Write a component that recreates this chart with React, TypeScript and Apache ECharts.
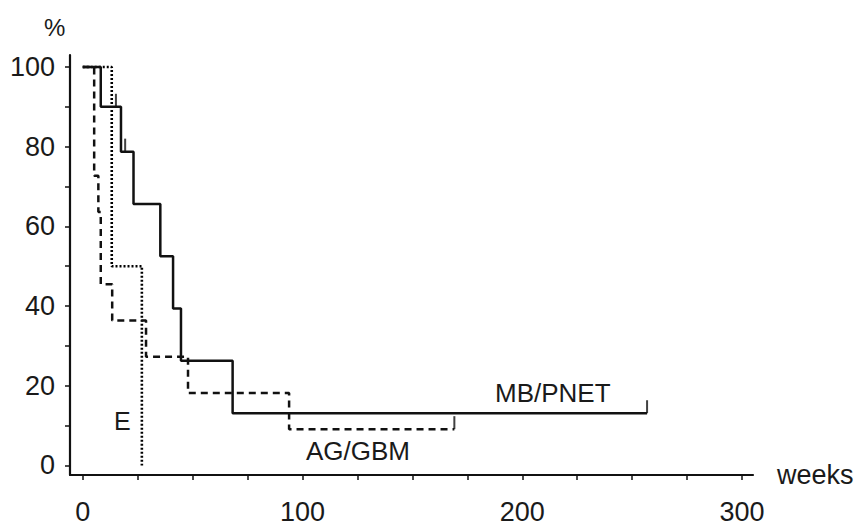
import React, { useEffect, useRef } from "react";
import * as echarts from "echarts";

// MB/PNET (solid)
const mbTimes = [0, 8.2, 17.4, 23.1, 35.3, 41.1, 44.7, 68.2, 256.8];
const mbSurv = [100, 90, 78.75, 65.6, 52.5, 39.4, 26.25, 13.1, 13.1];
const mbCensorTimes = [15.1, 19.3, 256.8];
const mbCensorSurv = [90, 78.75, 13.1];

// AG/GBM (dashed)
const agTimes = [0, 5.2, 7.1, 8.2, 13.4, 28.8, 47.9, 93.9, 169.1];
const agSurv = [100, 72.7, 63.6, 45.5, 36.4, 27.3, 18.2, 9.1, 9.1];
const agCensorTimes = [169.1];
const agCensorSurv = [9.1];

// E (dotted)
const eTimes = [0, 13.2, 26.9];
const eSurv = [100, 50, 0];

const xTickValues = [0, 25, 50, 75, 100, 125, 150, 175, 200, 225, 250, 275, 300];
const xLabelValues = [0, 100, 200, 300];
const yTickValues = [0, 10, 20, 30, 40, 50, 60, 70, 80, 90, 100];
const yLabelValues = [0, 20, 40, 60, 80, 100];

const FONT = "Liberation Sans, Arial, sans-serif";
const TXT = "#1a1a1a";
const INK = "#111";

const zip = (a: number[], b: number[]) => a.map((v, i) => [v, b[i]]);

export default function App() {
  const ref = useRef<HTMLDivElement>(null);
  useEffect(() => {
    if (!ref.current) return;
    const chart = echarts.init(ref.current, undefined, { renderer: "svg" });
    const censorSeries = (data: number[][]) => ({
      type: "scatter",
      data,
      symbol: "rect",
      symbolSize: [2, 13],
      symbolOffset: [0, -6.5],
      itemStyle: { color: INK },
      silent: true,
      z: 5,
    });
    chart.setOption({
      animation: false,
      backgroundColor: "#fff",
      grid: { left: 70, right: 106, top: 55, bottom: 53, outerBoundsMode: "none", containLabel: false },
      xAxis: {
        type: "value",
        min: -5.8,
        max: 305,
        name: "weeks",
        nameLocation: "end",
        nameGap: 24,
        nameTextStyle: { fontFamily: FONT, fontSize: 27, color: TXT },
        axisLine: { show: true, onZero: false, lineStyle: { color: INK, width: 2.2 } },
        axisTick: { show: true, length: 5, customValues: xTickValues, lineStyle: { color: INK, width: 1.5 } },
        axisLabel: { customValues: xLabelValues, margin: 23, fontFamily: FONT, fontSize: 27, color: TXT },
        splitLine: { show: false },
      },
      yAxis: {
        type: "value",
        min: -2.4,
        max: 103,
        axisLine: { show: true, onZero: false, lineStyle: { color: INK, width: 2.2 } },
        axisTick: { show: true, length: 5, customValues: yTickValues, lineStyle: { color: INK, width: 1.5 } },
        axisLabel: { customValues: yLabelValues, margin: 15, fontFamily: FONT, fontSize: 27, color: TXT },
        splitLine: { show: false },
      },
      series: [
        {
          type: "line",
          step: "end",
          data: zip(eTimes, eSurv),
          showSymbol: false,
          lineStyle: { color: "#000", width: 2.6, type: [2, 2] },
          silent: true,
        },
        {
          type: "line",
          step: "end",
          data: zip(agTimes, agSurv),
          showSymbol: false,
          lineStyle: { color: INK, width: 2.5, type: [7, 5] },
          silent: true,
        },
        {
          type: "line",
          step: "end",
          data: zip(mbTimes, mbSurv),
          showSymbol: false,
          lineStyle: { color: INK, width: 2.5 },
          silent: true,
        },
        censorSeries(zip(mbCensorTimes, mbCensorSurv)),
        censorSeries(zip(agCensorTimes, agCensorSurv)),
      ],
      graphic: [
        { type: "text", left: 44, top: 15, style: { text: "%", fontFamily: FONT, fontSize: 24, fill: TXT } },
        { type: "text", x: 114, y: 421, style: { text: "E", fontFamily: FONT, fontSize: 25, fill: TXT, verticalAlign: "middle" } },
        { type: "text", x: 306, y: 451, style: { text: "AG/GBM", fontFamily: FONT, fontSize: 26, fill: TXT, verticalAlign: "middle" } },
        { type: "text", x: 495, y: 393, style: { text: "MB/PNET", fontFamily: FONT, fontSize: 26, fill: TXT, verticalAlign: "middle" } },
      ],
    });
    return () => chart.dispose();
  }, []);
  return <div ref={ref} style={{ position: "fixed", left: 0, top: 0, width: 859, height: 528 }} />;
}
